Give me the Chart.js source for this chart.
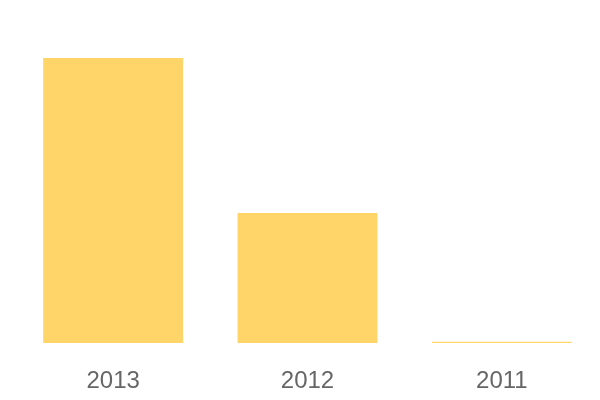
<!DOCTYPE html>
<html>
<head>
<meta charset="utf-8">
<script src="https://cdn.jsdelivr.net/npm/chart.js@4"></script>
<style>
  html, body { margin: 0; padding: 0; background: #fff; }
  #wrap { width: 600px; height: 400px; }
</style>
</head>
<body>
<div id="wrap"><canvas id="chart"></canvas></div>
<script>
const years = ["2013", "2012", "2011"];
const values = [100, 45.6, 0.4];

const ctx = document.getElementById("chart").getContext("2d");
new Chart(ctx, {
    type: "bar",
    data: {
        labels: years,
        datasets: [{
            data: values,
            backgroundColor: "rgb(255, 213, 106)",
            borderWidth: 0
        }]
    },
    options: {
        responsive: true,
        maintainAspectRatio: false,
        animation: false,
        layout: { padding: { top: 58, left: 16, right: 1, bottom: 0 } },
        plugins: { legend: { display: false }, tooltip: { enabled: false } },
        scales: {
            x: {
                grid: { display: false },
                border: { display: false },
                ticks: {
                    color: "#666",
                    padding: 16,
                    maxRotation: 0,
                    font: { family: "'Liberation Sans', Arial, sans-serif", size: 24 }
                },
                afterFit: function(scale) { scale.height = 57; }
            },
            y: { display: false, min: 0, max: 100 }
        }
    }
});
</script>
</body>
</html>
